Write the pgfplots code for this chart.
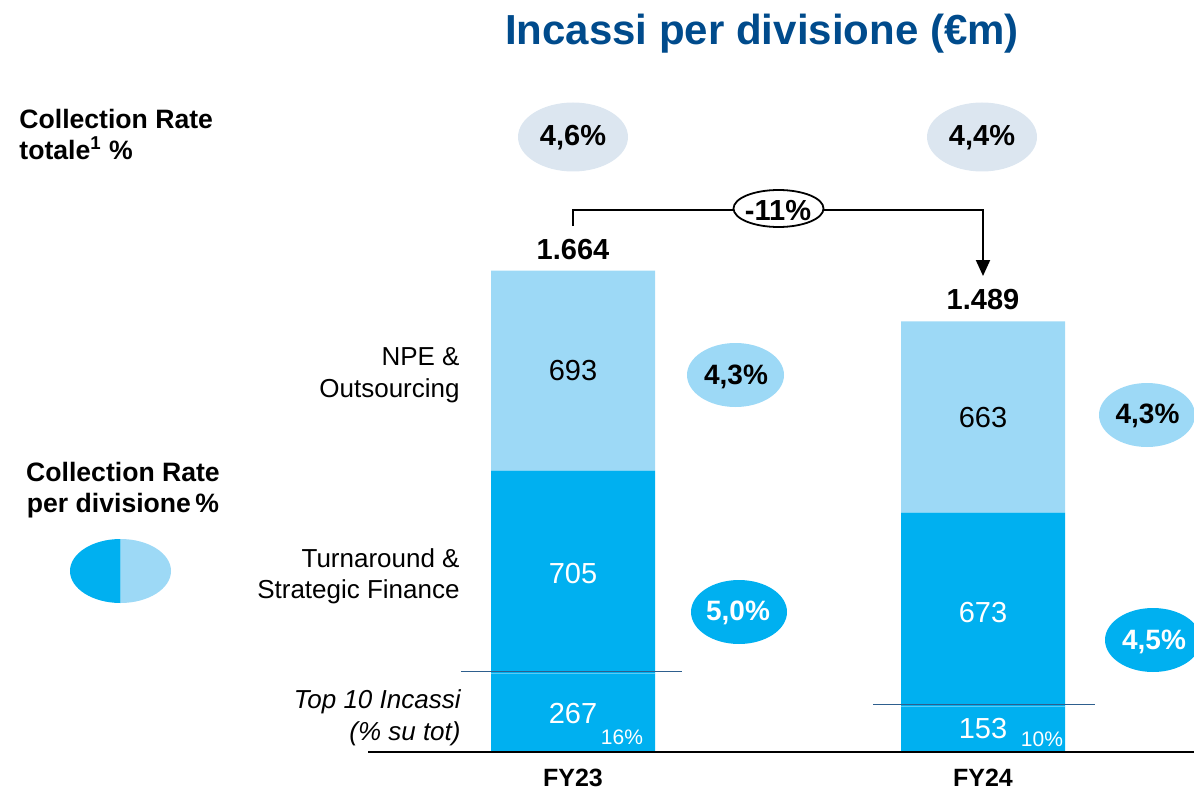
\documentclass[border=0pt]{standalone}
\usepackage{pgfplots}
\pgfplotsset{compat=1.18}
\usepackage{fontspec}
\setmainfont{Liberation Sans}
\usetikzlibrary{arrows.meta}
\definecolor{dark}{HTML}{00B0F0}
\definecolor{light}{HTML}{9DD9F6}
\definecolor{grayell}{HTML}{DCE6F0}
\definecolor{titleblue}{HTML}{004B8C}
\definecolor{sepline}{HTML}{2E5F8E}
\newcommand{\fs}[1]{\fontsize{#1}{#1}\selectfont}
\begin{document}
\begin{tikzpicture}
\path[use as bounding box] (0,0) rectangle (597pt,394.5pt);
\begin{axis}[at={(0,0)}, anchor=south west, scale only axis,
  width=597pt, height=394.5pt,
  xmin=-1.39756, xmax=1.51463, ymin=-131.73, ymax=2603.5,
  hide axis, clip=false, ybar stacked, bar width=0.4]
\addplot[fill=dark, draw=none] coordinates {(0,267) (1,153)};
\addplot[fill=dark, draw=none] coordinates {(0,705) (1,673)};
\addplot[fill=light, draw=none] coordinates {(0,693) (1,663)};
% anchor coordinates for annotations
\coordinate (bl0) at (axis cs:-0.5,-3);
\coordinate (bl1) at (axis cs:1.5146,-3);
\coordinate (wa0) at (axis cs:-0.2,267);
\coordinate (wa1) at (axis cs:0.2,267);
\coordinate (wb0) at (axis cs:0.8,153);
\coordinate (wb1) at (axis cs:1.2,153);
\coordinate (sa0) at (axis cs:-0.2732,275);
\coordinate (sa1) at (axis cs:0.2659,275);
\coordinate (sb0) at (axis cs:0.7317,160);
\coordinate (sb1) at (axis cs:1.2732,160);
\coordinate (t0) at (axis cs:0,1705);
\coordinate (t1) at (axis cs:1,1529);
\coordinate (n0) at (axis cs:0,1283);
\coordinate (m0) at (axis cs:0,582);
\coordinate (k0) at (axis cs:0,94);
\coordinate (p0) at (axis cs:0.1195,24);
\coordinate (n1) at (axis cs:1,1120);
\coordinate (m1) at (axis cs:1,447);
\coordinate (k1) at (axis cs:1,42);
\coordinate (p1) at (axis cs:1.1439,17);
\coordinate (c0) at (axis cs:0,-122);
\coordinate (c1) at (axis cs:1,-122);
\end{axis}
% baseline
\draw[black, line width=1pt] (bl0) -- (bl1);
% separators
\draw[white, opacity=0.35, line width=0.5pt] (wa0) -- (wa1);
\draw[white, opacity=0.35, line width=0.5pt] (wb0) -- (wb1);
\draw[sepline, line width=0.6pt] (sa0) -- (sa1);
\draw[sepline, line width=0.6pt] (sb0) -- (sb1);
% totals
\node[anchor=base, font=\bfseries\fs{14.5}] at (t0) {1.664};
\node[anchor=base, font=\bfseries\fs{14.5}] at (t1) {1.489};
% segment values
\node[anchor=base, font=\fs{14.5}] at (n0) {693};
\node[anchor=base, font=\fs{14.5}, white] at (m0) {705};
\node[anchor=base, font=\fs{14.5}, white] at (k0) {267};
\node[anchor=base, font=\fs{10.5}, white] at (p0) {16\%};
\node[anchor=base, font=\fs{14.5}] at (n1) {663};
\node[anchor=base, font=\fs{14.5}, white] at (m1) {673};
\node[anchor=base, font=\fs{14.5}, white] at (k1) {153};
\node[anchor=base, font=\fs{10.5}, white] at (p1) {10\%};
% categories
\node[anchor=base, inner sep=0pt, font=\bfseries\fs{12.5}] at (c0) {FY23};
\node[anchor=base, inner sep=0pt, font=\bfseries\fs{12.5}] at (c1) {FY24};
\begin{scope}[shift={(0,394.5pt)}, x=0.5pt, y=-0.5pt]
% title
\node[anchor=base, font=\bfseries\fs{21}, text=titleblue] at (762,45) {Incassi per divisione (€m)};
% left headers
\node[anchor=base west, font=\bfseries\fs{13.3}, inner sep=0pt] at (19,129) {Collection Rate};
\node[anchor=base west, font=\bfseries\fs{13.3}, inner sep=0pt] at (19,160) {totale\textsuperscript{1} \%};
\node[anchor=base, font=\bfseries\fs{13.3}] at (123,481) {Collection Rate};
\node[anchor=base, font=\bfseries\fs{13.3}] at (123,512) {per divisione\,\%};
% legend ellipse
\begin{scope}
\clip (60,530) rectangle (120.5,610);
\fill[dark] (120.5,571) ellipse [x radius=50.5, y radius=32];
\end{scope}
\begin{scope}
\clip (120.5,530) rectangle (180,610);
\fill[light] (120.5,571) ellipse [x radius=50.5, y radius=32];
\end{scope}
% row labels
\node[anchor=base east, font=\fs{13}, inner sep=0pt] at (460,365) {NPE \&};
\node[anchor=base east, font=\fs{13}, inner sep=0pt] at (460,397) {Outsourcing};
\node[anchor=base east, font=\fs{13}, inner sep=0pt] at (460,567) {Turnaround \&};
\node[anchor=base east, font=\fs{13}, inner sep=0pt] at (460,598) {Strategic Finance};
\node[anchor=base east, font=\itshape\fs{13}, inner sep=0pt] at (461,708) {Top 10 Incassi};
\node[anchor=base east, font=\itshape\fs{13}, inner sep=0pt] at (461,740) {(\% su tot)};
% total collection rate ellipses
\fill[grayell] (573,137) ellipse [x radius=55, y radius=34.5];
\fill[grayell] (982,137) ellipse [x radius=55, y radius=34.5];
\node[font=\bfseries\fs{14.5}] at (573,138) {4,6\%};
\node[font=\bfseries\fs{14.5}] at (982,138) {4,4\%};
% division ellipses
\fill[light] (735.5,375) ellipse [x radius=48.5, y radius=32];
\node[font=\bfseries\fs{14}] at (736,377) {4,3\%};
\fill[dark] (739,612) ellipse [x radius=48, y radius=32];
\node[font=\bfseries\fs{14}, white] at (738,613) {5,0\%};
\fill[light] (1147,415) ellipse [x radius=48, y radius=32];
\node[font=\bfseries\fs{14}] at (1147.5,416) {4,3\%};
\fill[dark] (1153,640) ellipse [x radius=48, y radius=32];
\node[font=\bfseries\fs{14}, white] at (1154,642) {4,5\%};
% bracket arrow
\draw[line width=1pt, -{Triangle[width=7pt,length=8pt]}] (573,226) -- (573,210) -- (983,210) -- (983,276);
\filldraw[fill=white, draw=black, line width=0.9pt] (778.5,208.5) ellipse [x radius=45, y radius=18.5];
\node[font=\bfseries\fs{14.5}] at (778,211) {-11\%};
\end{scope}
\end{tikzpicture}
\end{document}
